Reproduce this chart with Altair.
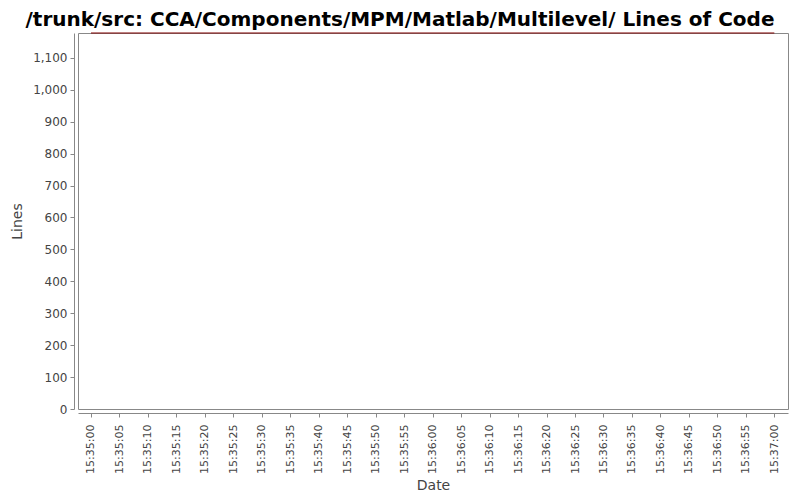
import altair as alt
import pandas as pd

dates = ["2010-01-01T15:35:00", "2010-01-01T15:37:00"]
lines = [1178, 1178]
tick_seconds = list(range(0, 121, 5))
y_ticks = list(range(0, 1200, 100))

df = pd.DataFrame({"date": dates, "lines": lines})

FONT = "DejaVu Sans"


def dt(sec, ms=0):
    total = 15 * 3600 + 35 * 60 + sec
    h = total // 3600
    m = (total % 3600) // 60
    s = total % 60
    return alt.DateTime(year=2010, month=1, date=1, hours=h, minutes=m, seconds=s, milliseconds=ms)


x_domain = [dt(-3, 720), dt(122, 400)]
x_ticks = [dt(s) for s in tick_seconds]

chart = alt.Chart(df).mark_line(color="#800000", strokeWidth=1.2).encode(
    x=alt.X("date:T", title="Date",
            scale=alt.Scale(domain=x_domain),
            axis=alt.Axis(format="%H:%M:%S", labelAngle=270, labelAlign="right",
                          labelBaseline="middle", values=x_ticks,
                          offset=4, grid=False, labelFont=FONT, labelFontSize=11,
                          labelColor="#444444", titleFont=FONT, titleFontSize=14,
                          titleFontWeight="normal", titleColor="#444444",
                          domainColor="#888888", tickColor="#888888", tickSize=4,
                          labelPadding=7, labelOverlap=False, titlePadding=5)),
    y=alt.Y("lines:Q", title="Lines",
            scale=alt.Scale(domain=[0, 1178], nice=False, zero=True),
            axis=alt.Axis(values=y_ticks, format=",.0f", offset=4,
                          grid=False, labelFont=FONT, labelFontSize=12,
                          labelColor="#444444", titleFont=FONT, titleFontSize=14,
                          titleFontWeight="normal", titleColor="#444444",
                          domainColor="#888888", tickColor="#888888", tickSize=4,
                          labelPadding=3, titlePadding=8)),
).properties(
    width=710,
    height=376,
    autosize=alt.AutoSizeParams(type="none"),
    padding={"left": 70, "top": 25, "right": 4, "bottom": 83},
    title=alt.TitleParams(
        "/trunk/src: CCA/Components/MPM/Matlab/Multilevel/ Lines of Code",
        font=FONT, fontSize=20, fontWeight="bold", color="#000000",
        anchor="middle", dx=-33, offset=1,
    ),
).configure(background="white").configure_view(stroke="#888888", strokeWidth=1)

chart.save("out.html", embed_options={"renderer": "svg", "actions": False})
